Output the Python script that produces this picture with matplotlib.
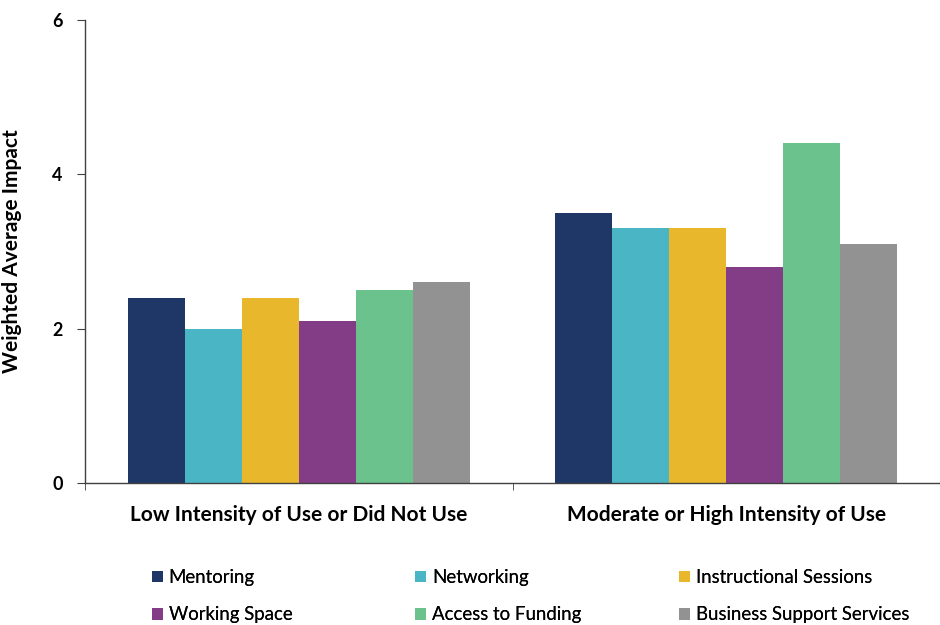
import numpy as np
import matplotlib
matplotlib.use("Agg")
from matplotlib import pyplot as plt

plt.rcParams['font.family'] = ['Lato', 'DejaVu Sans']

groups = ['Low Intensity of Use or Did Not Use', 'Moderate or High Intensity of Use']
services = ['Mentoring', 'Networking', 'Instructional Sessions',
            'Working Space', 'Access to Funding', 'Business Support Services']
low_use = [2.4, 2.0, 2.4, 2.1, 2.5, 2.6]
high_use = [3.5, 3.3, 3.3, 2.8, 4.4, 3.1]
colors = ['#1f3766', '#4ab5c4', '#e9b72c', '#833c86', '#6bc28c', '#929292']

fig = plt.figure(figsize=(9.4, 6.25), dpi=100)
ax = fig.add_axes([85/940, 1-483/625, 1-85/940, (483-20)/625])

x = np.arange(len(groups))
width = 0.8 / len(services)
bars = []
for i, name in enumerate(services):
    vals = [low_use[i], high_use[i]]
    b = ax.bar(x - 0.4 + width*(i+0.5), vals, width, color=colors[i], label=name)
    bars.append(b)

ax.set_xlim(-0.5, 1.477)
ax.set_ylim(0, 6)
ax.set_yticks([0, 2, 4, 6])
ax.set_xticks(x)
ax.set_xticklabels(groups, fontsize=15, fontweight='bold')
ax.tick_params(axis='x', which='major', length=0, pad=16)
ax.set_xticks([-0.5, 0.5, 1.5], minor=True)
ax.tick_params(axis='x', which='minor', length=5, direction='out', color='#404040')
ax.tick_params(axis='y', length=6, direction='out', color='#404040', pad=10)
for lbl in ax.get_yticklabels():
    lbl.set_fontweight('bold')
    lbl.set_fontsize(13)
ax.set_ylabel('Weighted Average Impact', fontsize=15, fontweight='bold', labelpad=22)

for s in ['top', 'right']:
    ax.spines[s].set_visible(False)
for s in ['left', 'bottom']:
    ax.spines[s].set_color('#404040')
    ax.spines[s].set_linewidth(1)

# legend laid out as three columns of two entries
col_x = [152/940, 415/940, 679/940]
for c in range(3):
    hs = [bars[c], bars[c+3]]
    lg = fig.legend(hs, [services[c], services[c+3]], loc='upper left',
                    bbox_to_anchor=(col_x[c], 1-569/625), frameon=False,
                    fontsize=13.4, handlelength=0.6, handleheight=0.6,
                    handletextpad=0.3, labelspacing=1.1, borderaxespad=0,
                    borderpad=0)
    fig.add_artist(lg)

fig.savefig('out.png', dpi=100)
